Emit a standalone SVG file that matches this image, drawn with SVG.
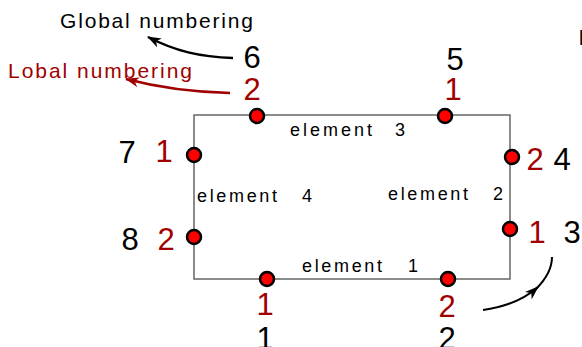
<svg xmlns="http://www.w3.org/2000/svg" width="582" height="347" viewBox="0 0 582 347">
<style>
text{font-family:"Liberation Sans",Arial,sans-serif}
.big{font-size:31px;text-anchor:middle}
.blk{fill:#000}
.red{fill:#a00000}
.lbl{font-size:18px;fill:#000}
.node{fill:#ff0000;stroke:#000;stroke-width:2.5}
.title{font-size:21px}
</style>
<defs>
<marker id="ahb" markerWidth="14" markerHeight="10" refX="13" refY="5" orient="auto" markerUnits="userSpaceOnUse">
<path d="M0,0 L14,5 L0,10 L4,5 Z" fill="#000"/>
</marker>
<marker id="ahr" markerWidth="14" markerHeight="10" refX="13" refY="5" orient="auto" markerUnits="userSpaceOnUse">
<path d="M0,0 L14,5 L0,10 L4,5 Z" fill="#a00000"/>
</marker>
</defs>
<rect width="582" height="347" fill="#fff"/>
<g id="connectors" fill="none">
<path d="M233,58 C200,57 175,51 148,37" stroke="#000" stroke-width="2.5" marker-end="url(#ahb)"/>
<path d="M230,93 C190,92 160,88 126,79" stroke="#a00000" stroke-width="2.5" marker-end="url(#ahr)"/>
<path d="M483,310 Q518,305 538,287" stroke="#000" stroke-width="2" marker-end="url(#ahb)"/>
<path d="M536,289 Q552,273 552,257" stroke="#000" stroke-width="2"/>
</g>
<g id="mesh">
<rect x="194" y="115" width="316" height="164" fill="none" stroke="#666" stroke-width="1.5"/>
</g>
<g id="titles">
<text class="title blk" x="60" y="28" textLength="193" lengthAdjust="spacing">Global numbering</text>
<text class="title red" x="8" y="78" textLength="184" lengthAdjust="spacing">Lobal numbering</text>
<text x="579" y="45" font-size="20" class="blk">l</text>
</g>
<g id="element1"><text class="lbl" x="302" y="272"><tspan textLength="80" lengthAdjust="spacing">element</tspan> <tspan x="408">1</tspan></text></g>
<g id="element2"><text class="lbl" x="388" y="200"><tspan textLength="80" lengthAdjust="spacing">element</tspan> <tspan x="493">2</tspan></text></g>
<g id="element3"><text class="lbl" x="290" y="136"><tspan textLength="82" lengthAdjust="spacing">element</tspan> <tspan x="395">3</tspan></text></g>
<g id="element4"><text class="lbl" x="197" y="202"><tspan textLength="80" lengthAdjust="spacing">element</tspan> <tspan x="302">4</tspan></text></g>
<g id="node1"><circle class="node" cx="267" cy="279" r="7"/><text class="big red" x="265" y="315">1</text><text class="big blk" x="265" y="349">1</text></g>
<g id="node2"><circle class="node" cx="448" cy="279" r="7"/><text class="big red" x="447" y="317">2</text><text class="big blk" x="447" y="349">2</text></g>
<g id="node3"><circle class="node" cx="510" cy="229" r="7"/><text class="big red" x="537" y="243">1</text><text class="big blk" x="572" y="243">3</text></g>
<g id="node4"><circle class="node" cx="512" cy="157" r="7"/><text class="big red" x="535" y="170">2</text><text class="big blk" x="562" y="170">4</text></g>
<g id="node5"><circle class="node" cx="445" cy="116" r="7"/><text class="big red" x="453" y="100">1</text><text class="big blk" x="455" y="70">5</text></g>
<g id="node6"><circle class="node" cx="257" cy="116" r="7"/><text class="big red" x="252" y="100">2</text><text class="big blk" x="252" y="68">6</text></g>
<g id="node7"><circle class="node" cx="194" cy="155" r="7"/><text class="big red" x="164" y="162">1</text><text class="big blk" x="127" y="163">7</text></g>
<g id="node8"><circle class="node" cx="194" cy="237" r="7"/><text class="big red" x="166" y="250">2</text><text class="big blk" x="130" y="250">8</text></g>
</svg>
